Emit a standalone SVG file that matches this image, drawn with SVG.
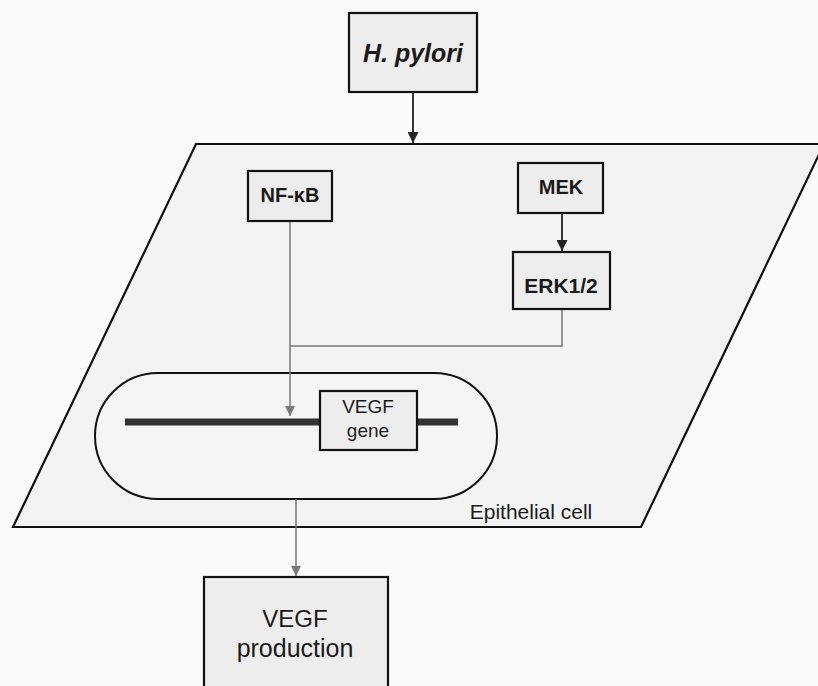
<svg xmlns="http://www.w3.org/2000/svg" width="818" height="686" viewBox="0 0 818 686">
<style>
.box{fill:#ededed;stroke:#111;stroke-width:2.2}
.t{font-family:"Liberation Sans",Arial,sans-serif;fill:#1a1a1a;text-anchor:middle}
.b{font-weight:bold}
.conn{fill:none;stroke:#777;stroke-width:1.5}
.connd{fill:none;stroke:#222;stroke-width:1.8}
</style>
<defs>
<marker id="ag" viewBox="0 0 10 10" refX="10" refY="5" markerWidth="10" markerHeight="10" markerUnits="userSpaceOnUse" orient="auto"><path d="M0,0 L10,5 L0,10 Z" fill="#777"/></marker>
<marker id="ad" viewBox="0 0 10 10" refX="10" refY="5" markerWidth="11" markerHeight="11" markerUnits="userSpaceOnUse" orient="auto"><path d="M0,0 L10,5 L0,10 Z" fill="#222"/></marker>
</defs>
<rect width="818" height="686" fill="#fafafa"/>
<g id="cell">
<polygon points="196,144 824,144 641,527 13,527" fill="#f3f3f3" stroke="#111" stroke-width="2.2"/>
<text class="t" x="531" y="519" font-size="21">Epithelial cell</text>
</g>
<g id="nucleus">
<rect x="95" y="373" width="402" height="126" rx="63" ry="63" fill="#f5f5f5" stroke="#111" stroke-width="2"/>
<line x1="125" y1="422" x2="458" y2="422" stroke="#333" stroke-width="7"/>
</g>
<g id="connectors">
<line class="connd" x1="413" y1="92" x2="413" y2="143" marker-end="url(#ad)"/>
<line class="connd" x1="562" y1="213" x2="562" y2="251" marker-end="url(#ad)"/>
<line class="conn" x1="290" y1="221" x2="290" y2="416" marker-end="url(#ag)"/>
<polyline class="conn" points="562,309 562,346 290,346"/>
<line class="conn" x1="296" y1="499" x2="296" y2="576" marker-end="url(#ag)"/>
</g>
<g id="hpylori">
<rect class="box" x="349" y="13" width="128" height="79"/>
<text class="t b" x="413" y="62" font-size="25" font-style="italic">H. pylori</text>
</g>
<g id="nfkb">
<rect class="box" x="248" y="171" width="84" height="50"/>
<text class="t b" x="290" y="202" font-size="20">NF-κB</text>
</g>
<g id="mek">
<rect class="box" x="518" y="163" width="85" height="50"/>
<text class="t b" x="561" y="194" font-size="20">MEK</text>
</g>
<g id="erk">
<rect class="box" x="513" y="252" width="97" height="57"/>
<text class="t b" x="561" y="293" font-size="21">ERK1/2</text>
</g>
<g id="vegfgene">
<rect class="box" x="320" y="391" width="97" height="59" stroke-width="1.8"/>
<text class="t" x="368" y="413" font-size="19">VEGF</text>
<text class="t" x="368" y="437" font-size="19">gene</text>
</g>
<g id="vegfprod">
<rect class="box" x="204" y="577" width="184" height="130"/>
<text class="t" x="295" y="627" font-size="24">VEGF</text>
<text class="t" x="295" y="657" font-size="25">production</text>
</g>
</svg>
